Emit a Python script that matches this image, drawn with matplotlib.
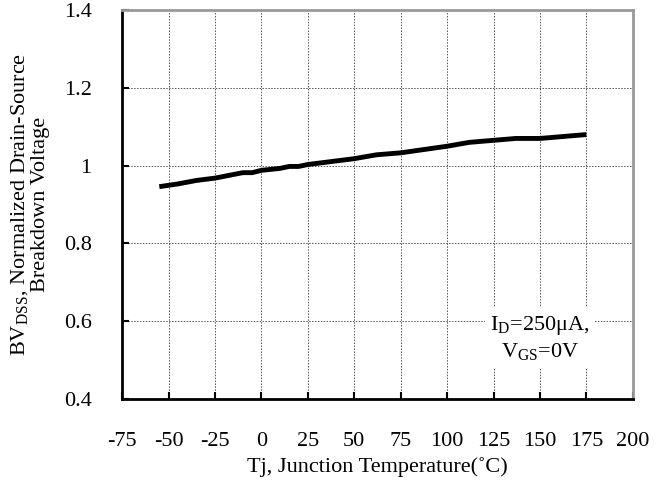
import numpy as np
import matplotlib.pyplot as plt

plt.rcParams['font.family'] = ['Liberation Serif', 'DejaVu Serif']
plt.rcParams['mathtext.fontset'] = 'custom'
plt.rcParams['mathtext.rm'] = 'Liberation Serif'
plt.rcParams['axes.unicode_minus'] = False

# Tj (C) vs normalized BVdss
temp = [-55, -45, -35, -25, -10, -5, 0, 10, 15, 20, 25, 50, 62, 75, 100, 112, 137, 150, 175]
bvdss = [0.946, 0.953, 0.962, 0.968, 0.982, 0.982, 0.988, 0.993, 0.998, 0.998,
         1.003, 1.018, 1.028, 1.033, 1.05, 1.06, 1.07, 1.07, 1.08]

x_ticks = list(range(-75, 201, 25))
y_ticks = [0.4, 0.6, 0.8, 1.0, 1.2, 1.4]
y_labels = ['0.4', '0.6', '0.8', '1', '1.2', '1.4']

fig = plt.figure(figsize=(6.64, 4.83), dpi=100)
ax = fig.add_axes([0.184, 0.174, 0.769, 0.805])

ax.plot(temp, bvdss, color='black', linewidth=3.5, solid_capstyle='butt', zorder=3)

ax.set_xlim(-75, 200)
ax.set_ylim(0.4, 1.4)
ax.set_xticks(x_ticks)
ax.set_yticks(y_ticks)
ax.set_yticklabels(y_labels)
ax.grid(True, color='#555555', linestyle=(0, (1.5, 1.5)), linewidth=0.7)
ax.set_axisbelow(True)

ax.tick_params(direction='in', length=5, width=1.5, labelsize=16,
               top=False, right=False)
ax.tick_params(axis='y', pad=22)
ax.tick_params(axis='x', pad=24)
for s in ['left', 'bottom']:
    ax.spines[s].set_linewidth(2)
    ax.spines[s].set_color('black')
for s in ['top', 'right']:
    ax.spines[s].set_linewidth(2)
    ax.spines[s].set_color('#999999')

ax.set_xlabel('Tj, Junction Temperature(˚C)', fontsize=16, labelpad=4)
ax.set_ylabel('BV$_\\mathrm{DSS}$, Normalized Drain-Source\nBreakdown Voltage',
              fontsize=16, labelpad=10, linespacing=1.0)

ax.text(150, 0.556, 'I$_\\mathrm{D}$=250μA,\nV$_\\mathrm{GS}$=0V', fontsize=16,
        ha='center', va='center', linespacing=1.3,
        bbox=dict(facecolor='white', edgecolor='none', pad=4), zorder=4)

fig.savefig('out.png', dpi=100)
